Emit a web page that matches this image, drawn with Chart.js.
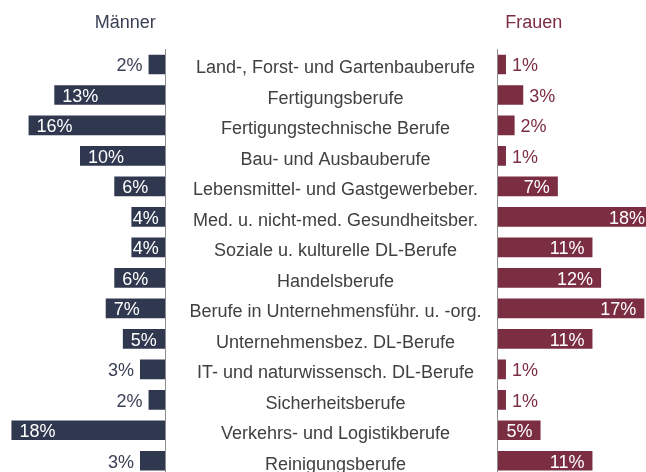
<!DOCTYPE html>
<html lang="de">
<head>
<meta charset="utf-8">
<title>Berufsbereiche nach Geschlecht</title>
<script src="https://cdn.jsdelivr.net/npm/chart.js@4.4.1/dist/chart.umd.min.js"></script>
<style>
  html, body { margin: 0; padding: 0; background: #fff; overflow: hidden; }
  #wrap { width: 646px; height: 472px; overflow: hidden; }
</style>
</head>
<body>
<div id="wrap"><canvas id="berufeChart" width="646" height="476"></canvas></div>
<script>
// Daten
const berufe = [
    'Land-, Forst- und Gartenbauberufe',
    'Fertigungsberufe',
    'Fertigungstechnische Berufe',
    'Bau- und Ausbauberufe',
    'Lebensmittel- und Gastgewerbeber.',
    'Med. u. nicht-med. Gesundheitsber.',
    'Soziale u. kulturelle DL-Berufe',
    'Handelsberufe',
    'Berufe in Unternehmensführ. u. -org.',
    'Unternehmensbez. DL-Berufe',
    'IT- und naturwissensch. DL-Berufe',
    'Sicherheitsberufe',
    'Verkehrs- und Logistikberufe',
    'Reinigungsberufe'
];
const maenner = [2, 13, 16, 10, 6, 4, 4, 6, 7, 5, 3, 2, 18, 3];
const frauen = [1, 3, 2, 1, 7, 18, 11, 12, 17, 11, 1, 1, 5, 11];
const serien = ['Männer', 'Frauen'];

const farbeM = '#303850';
const farbeF = '#7b2d41';
const schrift = '"Liberation Sans", Arial, sans-serif';

// Lage der beiden Nulllinien (px) und px pro Prozentpunkt
const breite = 646;
const nullLinks = 165.7, nullRechts = 497.3;
const pxLinks = 8.57, pxRechts = 8.65;

const beschriftung = {
    id: 'beschriftung',
    afterDatasetsDraw(chart) {
        const ctx = chart.ctx;
        const area = chart.chartArea;
        const nullL = chart.scales.xL.getPixelForValue(0);
        const nullR = chart.scales.xR.getPixelForValue(0);
        const balkenM = chart.getDatasetMeta(0).data;
        const balkenF = chart.getDatasetMeta(1).data;
        ctx.save();

        // Achsenlinien
        ctx.strokeStyle = '#8c8c8c';
        ctx.lineWidth = 1;
        ctx.beginPath();
        [nullL, nullR].forEach(function (x) {
            const px = Math.floor(x) + 0.5;
            ctx.moveTo(px, Math.round(area.top));
            ctx.lineTo(px, chart.height);
        });
        ctx.stroke();

        // Überschriften
        ctx.font = '18px ' + schrift;
        ctx.textBaseline = 'alphabetic';
        ctx.fillStyle = '#3a4156';
        ctx.textAlign = 'right';
        ctx.fillText(serien[0], nullL - 10, 28);
        ctx.fillStyle = farbeF;
        ctx.textAlign = 'left';
        ctx.fillText(serien[1], nullR + 8, 28);

        // Kategorien in der Mitte
        ctx.fillStyle = '#404040';
        ctx.textAlign = 'center';
        const mitte = (nullL + nullR) / 2 + 4;
        berufe.forEach(function (b, i) {
            ctx.fillText(b, mitte, balkenM[i].y + 9);
        });

        // Werte Männer
        maenner.forEach(function (v, i) {
            const t = v + '%';
            const w = ctx.measureText(t).width;
            const ende = balkenM[i].x;
            const y = balkenM[i].y + 7;
            if (nullL - ende >= w + 8) {
                ctx.fillStyle = '#ffffff';
                ctx.textAlign = 'left';
                ctx.fillText(t, Math.min(ende + 8, nullL - 7 - w), y);
            } else {
                ctx.fillStyle = '#3a4156';
                ctx.textAlign = 'right';
                ctx.fillText(t, ende - 6, y);
            }
        });

        // Werte Frauen
        frauen.forEach(function (v, i) {
            const t = v + '%';
            const w = ctx.measureText(t).width;
            const ende = balkenF[i].x;
            const y = balkenF[i].y + 7;
            if (ende - nullR >= w + 8) {
                ctx.fillStyle = '#ffffff';
                ctx.textAlign = 'right';
                ctx.fillText(t, Math.max(ende - 8, nullR + 7 + w), y);
            } else {
                ctx.fillStyle = farbeF;
                ctx.textAlign = 'left';
                ctx.fillText(t, ende + 6, y);
            }
        });
        ctx.restore();
    }
};

const maxL = nullLinks / pxLinks;
const minR = -nullRechts / pxRechts;

new Chart(document.getElementById('berufeChart'), {
    type: 'bar',
    data: {
        labels: berufe,
        datasets: [{
            label: serien[0],
            data: maenner,
            xAxisID: 'xL',
            backgroundColor: farbeM
        }, {
            label: serien[1],
            data: frauen,
            xAxisID: 'xR',
            backgroundColor: farbeF
        }]
    },
    options: {
        indexAxis: 'y',
        responsive: false,
        animation: false,
        layout: { padding: { top: 49.25, left: 0, right: 0, bottom: 0 } },
        datasets: {
            bar: {
                grouped: false,
                barPercentage: 0.645,
                categoryPercentage: 1
            }
        },
        plugins: {
            legend: { display: false },
            tooltip: { enabled: false }
        },
        scales: {
            y: { type: 'category', display: false, offset: true },
            xL: {
                type: 'linear',
                display: false,
                reverse: true,
                bounds: 'data',
                min: maxL - breite / pxLinks,
                max: maxL
            },
            xR: {
                type: 'linear',
                display: false,
                bounds: 'data',
                min: minR,
                max: minR + breite / pxRechts
            }
        }
    },
    plugins: [beschriftung]
});
</script>
</body>
</html>
